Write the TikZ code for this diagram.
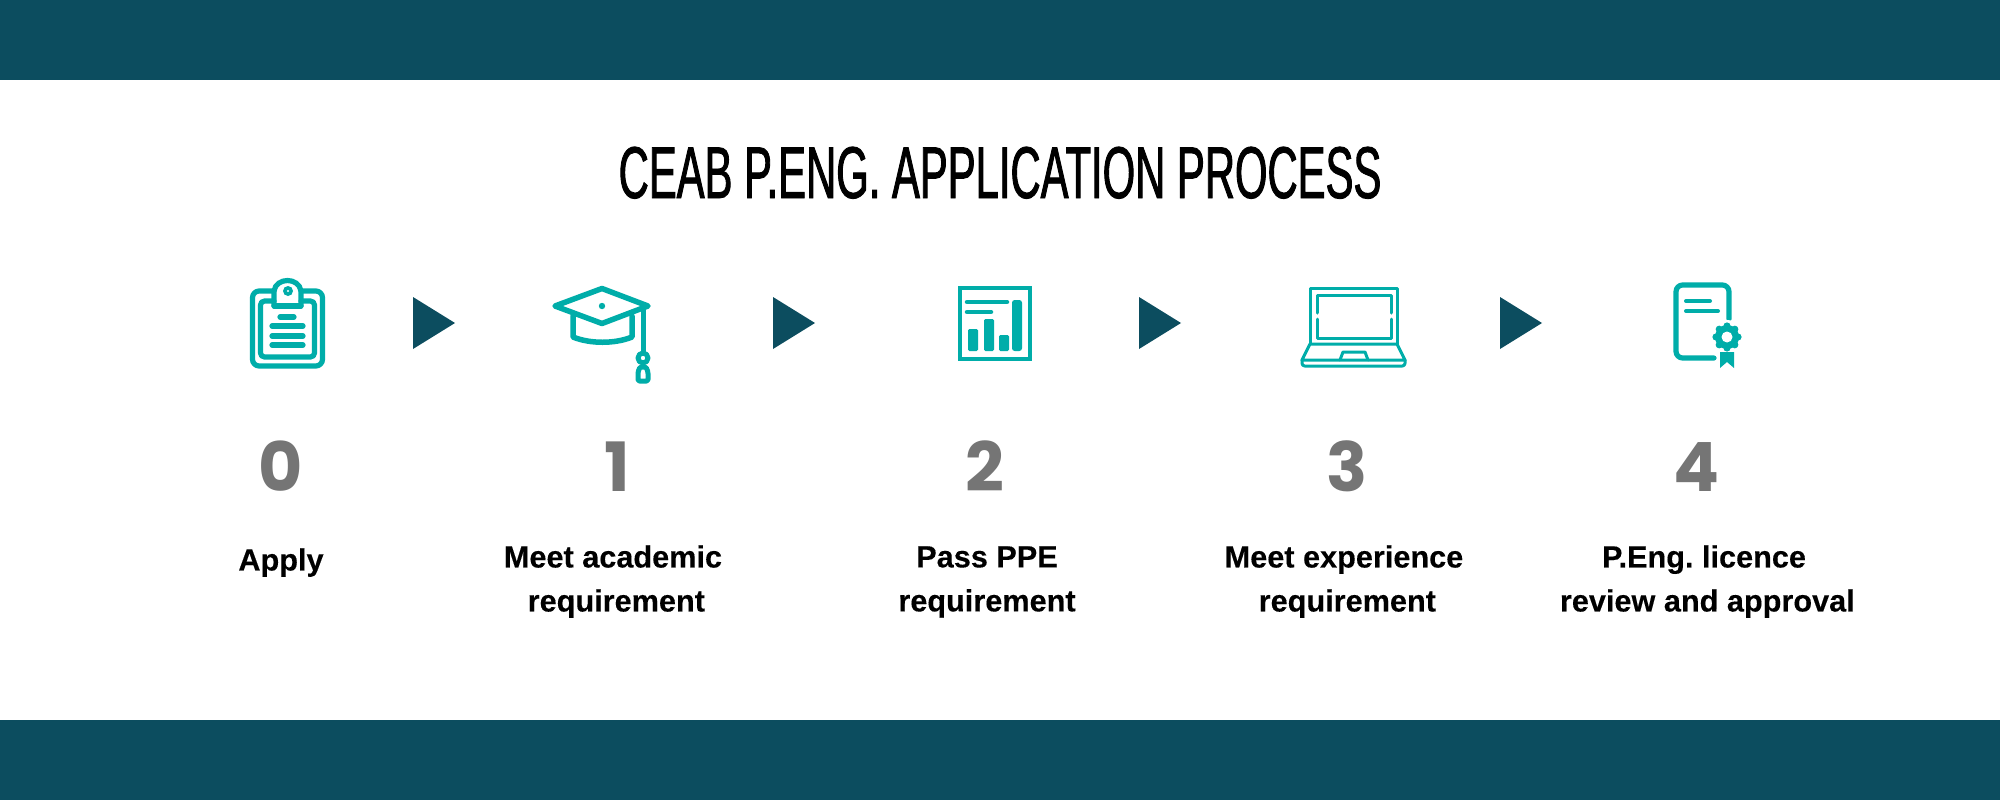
\documentclass[tikz,border=0pt]{standalone}
\usepackage{fontspec}
\setmainfont[BoldFeatures={FakeBold=0.25}]{Liberation Sans}
\newfontfamily\titlefont[FakeStretch=0.57,FakeBold=1.2]{Liberation Sans}
\newfontfamily\numfont{Poppins}
\definecolor{band}{HTML}{0C4D5F}
\definecolor{tealc}{HTML}{00ADA9}
\definecolor{numgrey}{HTML}{757575}
\tikzset{
  px/.style={line width=#1*0.75pt},
  ico/.style={draw=tealc,line cap=round,line join=round,fill=none},
  icofill/.style={fill=tealc,draw=none},
  tri/.style={fill=band,draw=none},
  lbl/.style={font=\fontsize{23pt}{33pt}\selectfont\bfseries,align=center,inner sep=0pt,anchor=north,text=black},
  numlbl/.style={font=\numfont\fontsize{51pt}{51pt}\selectfont\bfseries,text=numgrey,inner sep=0pt,anchor=base},
}
\begin{document}
\frenchspacing
\begin{tikzpicture}[x=0.75pt,y=-0.75pt]
\path[use as bounding box,fill=white] (0,0) rectangle (2000,800);
\fill[band] (0,0) rectangle (2000,80);
\fill[band] (0,720) rectangle (2000,800);
\node[inner sep=0pt,anchor=base,font=\titlefont\fontsize{55pt}{55pt}\selectfont] (title) at (1000,198) {CEAB P.ENG. APPLICATION PROCESS};
% arrows
\foreach \x in {413,773,1139,1500}{
  \fill[tri] (\x,297) -- (\x+42,323) -- (\x,349) -- cycle;
}
% clipboard
\draw[ico,px=5.2,rounded corners=5pt] (274,291) -- (252.5,291) -- (252.5,366) -- (322.5,366) -- (322.5,291) -- (301,291);
\draw[ico,px=5.2] (274,306) -- (274,291) .. controls (276,277) and (299,277) .. (301,291) -- (301,306);
\draw[ico,px=5.2,rounded corners=3pt] (274,301) -- (260.5,301) -- (260.5,357) -- (314.5,357) -- (314.5,301) -- (301,301);
\draw[ico,px=5.2] (274,306) -- (301,306);
\fill[tealc] (288,291) circle (5);
\fill[white] (288,291) circle (1.2);
\draw[ico,px=5.2] (280,317) -- (294,317);
\foreach \y in {326,336,345}{\draw[ico,px=5.2] (272,\y) -- (303,\y);}
% grad cap
\draw[ico,px=5.5] (555,306) -- (602,288.5) -- (648,306) -- (602,323.5) -- cycle;
\fill[tealc] (602,306) circle (3.2);
\draw[ico,px=5.5] (573,316) -- (573,337) .. controls (590,344) and (615,344) .. (632,337) -- (632,316);
\draw[ico,px=5] (643,309) -- (643,352);
\draw[ico,px=5] (643,358) circle (5);
\draw[ico,px=5,rounded corners=1pt] (640,367) -- (646,367) -- (648,372) -- (648,381) -- (638,381) -- (638,372) -- cycle;
% chart
\draw[ico,px=4.5,line cap=butt,line join=miter] (960,288) rectangle (1030,359);
\draw[ico,px=4.5] (967,302) -- (1007,302);
\draw[ico,px=4.5] (967,312) -- (991,312);
\fill[tealc,rounded corners=1pt] (968,329) rectangle (978,351);
\fill[tealc,rounded corners=1pt] (984,319) rectangle (994,351);
\fill[tealc,rounded corners=1pt] (999,335) rectangle (1009,351);
\fill[tealc,rounded corners=2pt] (1012,300) rectangle (1022,351);
% laptop
\draw[ico,px=3] (1310,344) -- (1310,288) -- (1397,288) -- (1397,344);
\draw[ico,px=3] (1317,313) -- (1317,295) -- (1391,295) -- (1391,313);
\draw[ico,px=3] (1317,319) -- (1317,338) -- (1391,338) -- (1391,319);
\draw[ico,px=3] (1310,344) -- (1397,344) -- (1405,360) -- (1302,360) -- cycle;
\draw[ico,px=3,rounded corners=2pt] (1302,360) -- (1302,366) -- (1405,366) -- (1405,360);
\draw[ico,px=3] (1340,360) -- (1343,352) -- (1365,352) -- (1368,360);
% certificate
\draw[ico,px=5.2,rounded corners=5pt] (1729,319) -- (1729,285) -- (1676,285) -- (1676,358) -- (1714,358);
\draw[ico,px=4] (1686,301) -- (1710,301);
\draw[ico,px=4] (1686,311) -- (1718,311);
\fill[white] (1727,337) circle (17);
\fill[white] (1720,348) rectangle (1734,352);
\fill[tealc] (1720,352) -- (1734,352) -- (1734,368) -- (1727,362) -- (1720,368) -- cycle;
\fill[tealc] (1727,337) circle (12);
\foreach \a in {0,45,...,315}{\fill[tealc] (1727,337) ++(\a:11) circle (3.6);}
\fill[white] (1727,337) circle (5.5);
% numbers
\node[numlbl] (n0) at (281,491) {0};
\node[numlbl] (n1) at (617,491) {1};
\node[numlbl] (n2) at (985,491) {2};
\node[numlbl] (n3) at (1347,491) {3};
\node[numlbl] (n4) at (1697,491) {4};
% labels
\node[lbl] (l0) at (281,548) {Apply};
\node[lbl] (l1) at (613,545) {Meet academic\\\hspace*{5pt}requirement};
\node[lbl] (l2) at (987,546) {Pass PPE\\requirement};
\node[lbl] (l3) at (1344,545) {Meet experience\\\hspace*{5pt}requirement};
\node[lbl] (l4) at (1704,545) {P.Eng. licence\\\hspace*{5pt}review and approval};
\end{tikzpicture}
\end{document}
